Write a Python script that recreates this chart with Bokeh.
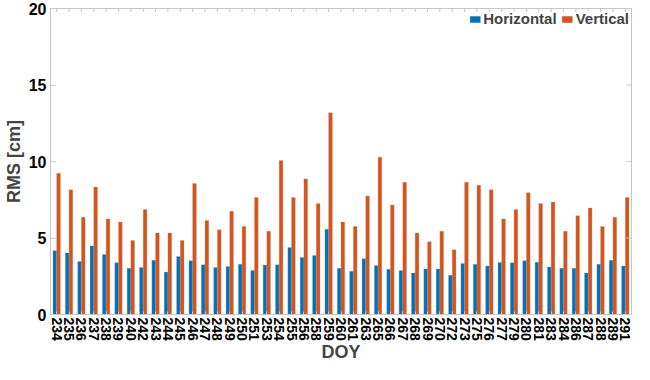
import math
from bokeh.plotting import figure
from bokeh.models import FactorRange, Range1d, FixedTicker, ColumnDataSource, Legend, LegendItem
from bokeh.transform import dodge
from bokeh.embed import file_html
from bokeh.resources import INLINE

doy = [234, 235, 236, 237, 238, 239, 240, 242, 243, 244, 245, 246, 247, 248, 249, 250,
       251, 253, 254, 255, 256, 258, 259, 260, 261, 263, 265, 266, 267, 268, 269, 270,
       272, 273, 275, 276, 277, 279, 280, 281, 283, 284, 286, 287, 288, 289, 291]
horizontal = [4.17, 4.02, 3.46, 4.48, 3.92, 3.38, 3.02, 3.08, 3.54, 2.77, 3.79, 3.52, 3.25, 3.08, 3.13, 3.29,
              2.88, 3.23, 3.25, 4.38, 3.73, 3.86, 5.58, 3.02, 2.83, 3.65, 3.21, 2.96, 2.88, 2.71, 2.98, 2.98,
              2.56, 3.33, 3.29, 3.17, 3.40, 3.38, 3.52, 3.42, 3.10, 3.02, 3.02, 2.71, 3.29, 3.54, 3.17]
vertical = [9.23, 8.15, 6.36, 8.33, 6.25, 6.04, 4.83, 6.86, 5.33, 5.33, 4.83, 8.56, 6.15, 5.54, 6.75, 5.75,
            7.65, 5.44, 10.06, 7.65, 8.86, 7.25, 13.19, 6.04, 5.75, 7.75, 10.27, 7.15, 8.65, 5.33, 4.75, 5.44,
            4.23, 8.65, 8.44, 8.15, 6.25, 6.86, 7.96, 7.25, 7.35, 5.44, 6.46, 6.96, 5.75, 6.36, 7.65]
y_ticks = [0, 5, 10, 15, 20]

cats = [str(d) for d in doy]
src = ColumnDataSource(data=dict(doy=cats, h=horizontal, v=vertical))

FONT = "Liberation Sans"
AXC = "#c6c6c6"
Y_TOP = y_ticks[-1]

p = figure(width=634, height=364, output_backend="svg", toolbar_location=None,
           x_range=FactorRange(factors=cats, range_padding=0),
           y_range=Range1d(y_ticks[0], Y_TOP), min_border_top=8, min_border_right=3,
           min_border_left=0, min_border_bottom=0)
p.grid.visible = False
p.outline_line_color = AXC
p.background_fill_color = "white"

r_h = p.vbar(x=dodge("doy", -0.15, range=p.x_range), top="h", width=0.3, source=src,
             fill_color="#0072BD", line_color="#9a9a9a", line_width=0.5, line_alpha=0.6)
r_v = p.vbar(x=dodge("doy", 0.15, range=p.x_range), top="v", width=0.3, source=src,
             fill_color="#D95319", line_color="#9a9a9a", line_width=0.5, line_alpha=0.6)

# box ticks on top (each category) and right (y ticks), pointing inward
top_src = ColumnDataSource(data=dict(doy=cats, y=[Y_TOP] * len(cats)))
p.scatter(x="doy", y="y", source=top_src, marker="dash", angle=math.pi / 2, size=7,
          line_color=AXC, line_width=1)
right_src = ColumnDataSource(data=dict(doy=[cats[-1]] * len(y_ticks), y=y_ticks))
p.scatter(x=dodge("doy", 0.5, range=p.x_range), y="y", source=right_src, marker="dash",
          size=10, line_color=AXC, line_width=1)

xa = p.xaxis[0]
xa.axis_label = "DOY"
xa.major_label_orientation = "vertical"
xa.major_label_text_font = FONT
xa.major_label_text_font_style = "bold"
xa.major_label_text_font_size = "14px"
xa.major_label_text_color = "black"
xa.major_label_standoff = 3
xa.axis_label_text_font = FONT
xa.axis_label_text_font_style = "bold"
xa.axis_label_text_font_size = "18px"
xa.axis_label_standoff = -2
xa.axis_line_color = AXC
xa.major_tick_line_color = AXC
xa.major_tick_in = 3
xa.major_tick_out = 0

ya = p.yaxis[0]
ya.axis_label = "RMS [cm]"
ya.ticker = FixedTicker(ticks=y_ticks)
ya.major_label_text_font = FONT
ya.major_label_text_font_style = "bold"
ya.major_label_text_font_size = "16px"
ya.major_label_text_color = "black"
ya.major_label_standoff = 4
ya.axis_label_text_font = FONT
ya.axis_label_text_font_style = "bold"
ya.axis_label_text_font_size = "18px"
ya.axis_label_standoff = 2
ya.axis_line_color = AXC
ya.major_tick_line_color = AXC
ya.major_tick_in = 5
ya.major_tick_out = 0
ya.minor_tick_line_color = None

legend = Legend(items=[LegendItem(label="Horizontal", renderers=[r_h]),
                       LegendItem(label="Vertical", renderers=[r_v])],
                orientation="horizontal", location="top_right",
                label_text_font=FONT, label_text_font_style="bold", label_text_font_size="15px",
                glyph_width=13, glyph_height=8, label_standoff=2, spacing=4,
                padding=2, margin=2, border_line_color=None, background_fill_alpha=0)
p.add_layout(legend)

open("out.html", "w").write(file_html(p, INLINE))
